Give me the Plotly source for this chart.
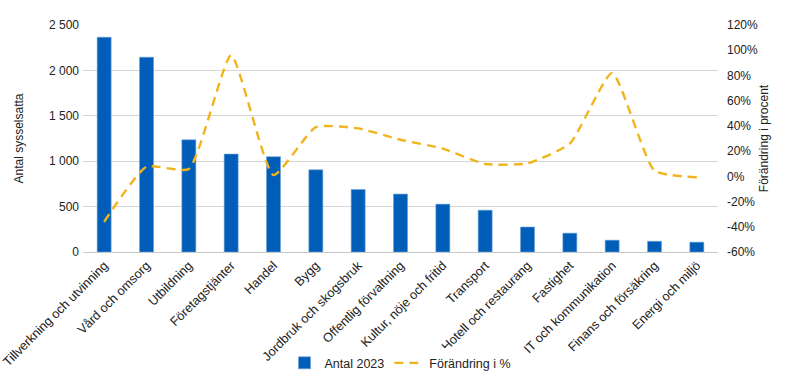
import plotly.graph_objects as go

categories = ["Tillverkning och utvinning", "Vård och omsorg", "Utbildning", "Företagstjänter",
              "Handel", "Bygg", "Jordbruk och skogsbruk", "Offentlig förvaltning",
              "Kultur, nöje och fritid", "Transport", "Hotell och restaurang", "Fastighet",
              "IT och kommunikation", "Finans och försäkring", "Energi och miljö"]
antal_2023 = [2365, 2145, 1235, 1078, 1050, 905, 688, 638, 527, 460, 275, 207, 130, 118, 108]
forandring = [-36, 7.6, 5.8, 96, 1, 39, 38, 29, 22, 9.8, 10.3, 26, 82, 4.5, -0.8]
left_tickvals = [0, 500, 1000, 1500, 2000, 2500]
left_ticktext = ["0", "500", "1 000", "1 500", "2 000", "2 500"]
right_tickvals = [-60, -40, -20, 0, 20, 40, 60, 80, 100, 120]
right_ticktext = ["-60%", "-40%", "-20%", "0%", "20%", "40%", "60%", "80%", "100%", "120%"]

font = "Liberation Sans, Arial, sans-serif"

fig = go.Figure()
fig.add_trace(go.Bar(
    x=categories, y=antal_2023, name="Antal 2023",
    marker=dict(color="#005EB8", line=dict(color="#6A9FD8", width=0.6)),
    yaxis="y",
))
fig.add_trace(go.Scatter(
    x=categories, y=forandring, name="Förändring i %",
    mode="lines", line=dict(color="#F2B41C", width=2.4, dash="9px,6px", shape="spline", smoothing=0.5),
    yaxis="y2",
))

fig.update_layout(
    width=799, height=381,
    margin=dict(l=83, r=81, t=25, b=129, autoexpand=False),
    paper_bgcolor="white", plot_bgcolor="white",
    font=dict(family=font, size=12, color="#222222"),
    bargap=0.67,
    showlegend=True,
    legend=dict(orientation="h", x=0.5, xanchor="center", y=-0.49, yanchor="middle",
                font=dict(size=12.5), itemwidth=30, traceorder="normal"),
    xaxis=dict(tickangle=-45, showgrid=False, showline=True, linecolor="#C8C8C8", linewidth=1.3,
               ticks="", tickfont=dict(size=12.7), automargin=False),
    yaxis=dict(range=[0, 2500], tickvals=left_tickvals, ticktext=left_ticktext,
               showgrid=True, gridcolor="#D6D6D6", gridwidth=1.3, zeroline=False,
               title=dict(text="Antal sysselsatta", font=dict(size=12), standoff=22),
               ticks="", tickfont=dict(size=12), automargin=False, ticklabelstandoff=3),
    yaxis2=dict(range=[-60, 120], tickvals=right_tickvals, ticktext=right_ticktext,
                overlaying="y", side="right", showgrid=False, zeroline=False,
                title=dict(text="Förändring i procent", font=dict(size=12), standoff=2),
                ticks="", tickfont=dict(size=12), automargin=False, ticklabelstandoff=8),
)

fig.write_html("out.html")
